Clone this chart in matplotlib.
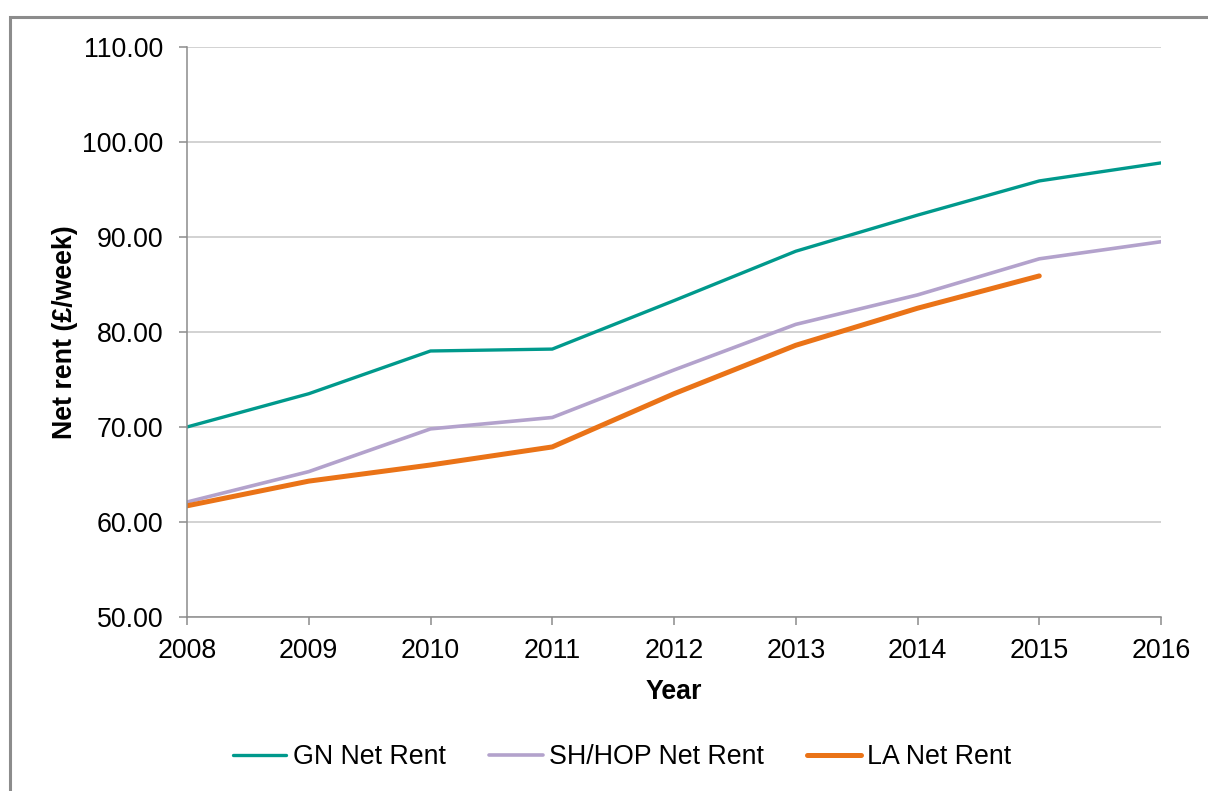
import matplotlib.pyplot as plt
from matplotlib.patches import Rectangle

plt.rcParams['font.family'] = ['Liberation Sans', 'DejaVu Sans']

years = [2008, 2009, 2010, 2011, 2012, 2013, 2014, 2015, 2016]
gn_rent = [70.0, 73.5, 78.0, 78.2, 83.3, 88.5, 92.3, 95.9, 97.8]
sh_rent = [62.1, 65.3, 69.8, 71.0, 76.0, 80.8, 83.9, 87.7, 89.5]
la_years = [2008, 2009, 2010, 2011, 2012, 2013, 2014, 2015]
la_rent = [61.7, 64.3, 66.0, 67.9, 73.5, 78.6, 82.5, 85.9]

fs = 19.3

fig = plt.figure(figsize=(12.08, 7.91), dpi=100)
ax = fig.add_axes([0.1548, 0.2200, 0.8063, 0.7206])

# outer chart border (cut off at right and bottom)
fig.patches.append(Rectangle((10/1208, -0.1), 1.2, 1 - 17/791 + 0.1, transform=fig.transFigure,
                             fill=False, edgecolor='#8c8c8c', linewidth=2.2))

ax.plot(years, gn_rent, color='#00998c', lw=2.4, label='GN Net Rent', solid_capstyle='round')
ax.plot(years, sh_rent, color='#b3a2cc', lw=2.6, label='SH/HOP Net Rent', solid_capstyle='round')
ax.plot(la_years, la_rent, color='#ea7317', lw=3.6, label='LA Net Rent', solid_capstyle='round')

ax.set_xlim(2008, 2016)
ax.set_ylim(50, 110)
ax.set_xticks(years)
ax.set_yticks(range(50, 111, 10))
ax.set_yticklabels(['%.2f' % v for v in range(50, 111, 10)])
ax.grid(axis='y', color='#c6c6c6', lw=1.1)
ax.set_axisbelow(True)

for s in ['top', 'right']:
    ax.spines[s].set_visible(False)
for s in ['left', 'bottom']:
    ax.spines[s].set_color('#8c8c8c')
    ax.spines[s].set_linewidth(1.1)
ax.tick_params(axis='both', colors='#8c8c8c', labelcolor='black', labelsize=fs,
               length=6, width=1.1, direction='out')
ax.tick_params(axis='x', pad=9)
ax.tick_params(axis='y', pad=11)

ax.set_xlabel('Year', fontsize=fs, fontweight='bold', labelpad=11)
ax.set_ylabel('Net rent (£/week)', fontsize=fs, fontweight='bold', labelpad=3)

fig.legend(loc='center', bbox_to_anchor=(0.515, 0.043), ncol=3, frameon=False,
           fontsize=fs, handlelength=2.0, handletextpad=0.25, columnspacing=1.6)

fig.savefig('out.png', dpi=100)
